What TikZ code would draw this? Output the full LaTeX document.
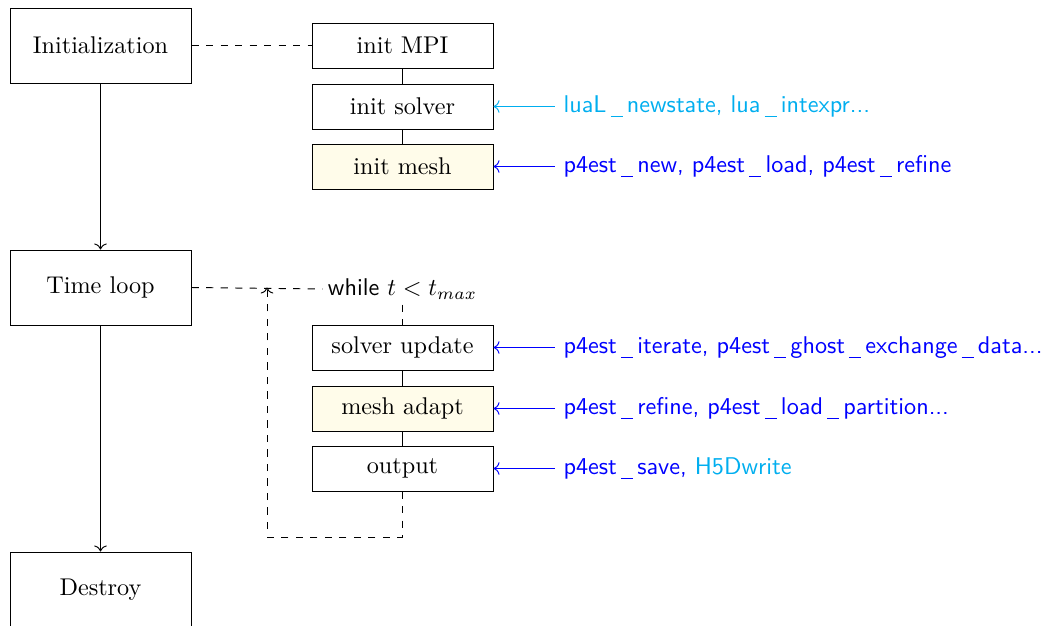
\documentclass[tikz,border=0pt]{standalone}
\usetikzlibrary{arrows.meta}
\definecolor{lcyan}{RGB}{0,174,239}
\definecolor{meshfill}{RGB}{255,252,234}
\newcommand\usc{\kern.17em\rule[-.4ex]{.5em}{.42pt}\kern.17em}
\begin{document}
\begin{tikzpicture}[x=0.4132pt,y=-0.4132pt,
  bigbox/.style={draw,minimum width=74.8pt,minimum height=31pt,inner sep=0pt},
  smallbox/.style={draw,minimum width=74.8pt,minimum height=18.6pt,inner sep=0pt},
  meshbox/.style={smallbox,fill=meshfill},
  lbl/.style={anchor=west,font=\sffamily}]
\useasboundingbox (0,0) rectangle (1045,625);
\node[bigbox] (init) at (100.5,45.5) {Initialization};
\node[bigbox] (loop) at (100.5,287.5) {Time loop};
\node[bigbox] (destroy) at (100.5,589.5) {Destroy};
\node[smallbox] (mpi) at (402.5,45.5) {init MPI};
\node[smallbox] (solver) at (402.5,106.5) {init solver};
\node[meshbox] (mesh) at (402.5,166.5) {init mesh};
\node[inner sep=2pt] (while) at (402.5,289) {\sffamily while $t<t_{max}$};
\node[smallbox] (upd) at (402.5,347.5) {solver update};
\node[meshbox] (adapt) at (402.5,408.5) {mesh adapt};
\node[smallbox] (out) at (402.5,468.5) {output};
\coordinate (c1) at (402.5,537);
\coordinate (c2) at (267,537);
\coordinate (c3) at (267,287.5);
\node[lbl,text=lcyan] (l1) at (555,106.5) {luaL\usc newstate, lua\usc intexpr...};
\node[lbl,text=blue] (l2) at (555,166.5) {p4est\usc new, p4est\usc load, p4est\usc refine};
\node[lbl,text=blue] (l3) at (555,347.5) {p4est\usc iterate, p4est\usc ghost\usc exchange\usc data...};
\node[lbl,text=blue] (l4) at (555,408.5) {p4est\usc refine, p4est\usc load\usc partition...};
\node[lbl,text=blue] (l5) at (555,468.5) {p4est\usc save, \textcolor{lcyan}{H5Dwrite}};
\draw[->] (init) -- (loop);
\draw[->] (loop) -- (destroy);
\draw[dashed] (init.east) -- (mpi.west);
\draw (mpi) -- (solver);
\draw (solver) -- (mesh);
\draw[dashed] (loop.east) -- (while.west);
\draw[dashed] (while.south) -- (upd.north);
\draw (upd) -- (adapt);
\draw (adapt) -- (out);
\draw[dashed,->] (out.south) -- (c1) -- (c2) -- (c3);
\draw[<-,lcyan] (solver.east) -- (l1.west);
\draw[<-,blue] (mesh.east) -- (l2.west);
\draw[<-,blue] (upd.east) -- (l3.west);
\draw[<-,blue] (adapt.east) -- (l4.west);
\draw[<-,blue] (out.east) -- (l5.west);
\end{tikzpicture}
\end{document}
